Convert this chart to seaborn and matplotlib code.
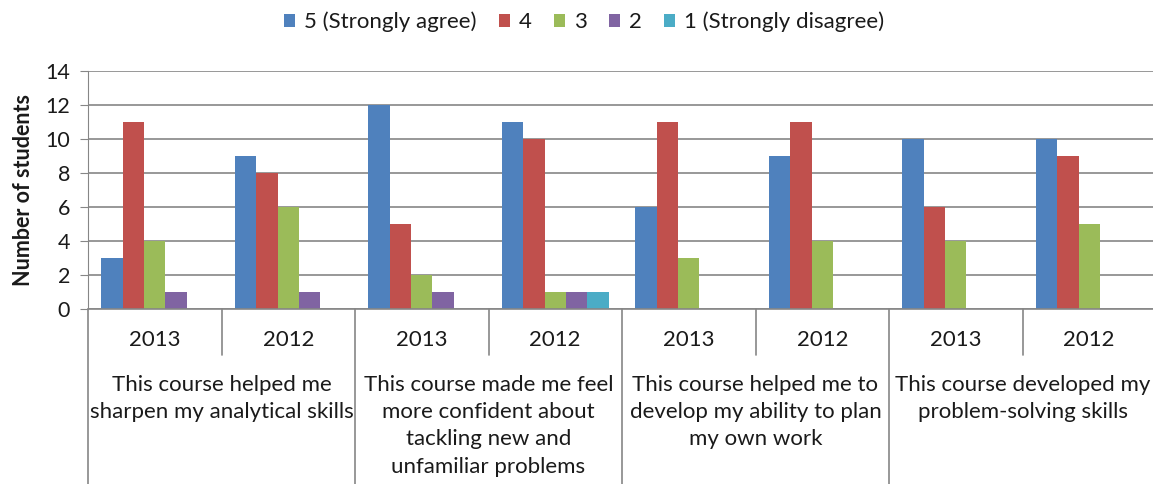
import seaborn as sns
import matplotlib.pyplot as plt
import pandas as pd

# values
questions = [
    'This course helped me\nsharpen my analytical skills',
    'This course made me feel\nmore confident about\ntackling new and\nunfamiliar problems',
    'This course helped me to\ndevelop my ability to plan\nmy own work',
    'This course developed my\nproblem-solving skills',
]
years = ['2013', '2012']
ratings = ['5 (Strongly agree)', '4', '3', '2', '1 (Strongly disagree)']
r5 = [3, 9, 12, 11, 6, 9, 10, 10]
r4 = [11, 8, 5, 10, 11, 11, 6, 9]
r3 = [4, 6, 2, 1, 3, 4, 4, 5]
r2 = [1, 1, 1, 1, 0, 0, 0, 0]
r1 = [0, 0, 0, 1, 0, 0, 0, 0]
colors = ['#4F81BD', '#C0504D', '#9BBB59', '#8064A2', '#4BACC6']

slots = [f'Q{q + 1} {y}' for q in range(len(questions)) for y in years]
rows = []
for rating, vals in zip(ratings, [r5, r4, r3, r2, r1]):
    for slot, v in zip(slots, vals):
        rows.append({'slot': slot, 'rating': rating, 'count': v})
df = pd.DataFrame(rows)

sns.set_style('white')
plt.rcParams['font.family'] = ['Lato', 'DejaVu Sans']
grey = '#868686'
txt = '#1a1a1a'

fig = plt.figure(figsize=(11.53, 4.84), dpi=100)
ax = fig.add_axes([88 / 1153, 1 - 309 / 484, (1156 - 88) / 1153, (309 - 71) / 484])

sns.barplot(data=df, x='slot', y='count', hue='rating', order=slots,
            hue_order=ratings, palette=colors, saturation=1, width=0.8,
            linewidth=0, ax=ax, legend=True)

ax.set_xlim(-0.5, len(slots) - 0.5)
ax.set_ylim(0, 14)
ax.set_yticks(range(0, 15, 2))
ax.yaxis.grid(True, color=grey, lw=1.2)
ax.set_axisbelow(True)
for s in ['top', 'right', 'bottom']:
    ax.spines[s].set_visible(False)
ax.spines['left'].set_color(grey)
ax.tick_params(axis='y', length=6, color=grey, direction='out', labelsize=15.5,
               labelcolor=txt, left=True, pad=7)
ax.set_xticks([])
ax.set_xlabel('')
ax.set_ylabel('Number of students', fontsize=15.5, fontweight='bold', color=txt, labelpad=8)

tr = ax.get_xaxis_transform()
# category axis frame
ax.plot([-0.5, len(slots) - 0.5], [0, 0], color=grey, lw=1.2, transform=tr, clip_on=False)
for i in range(len(slots)):
    ax.text(i, -31 / 238, slots[i].split()[1], ha='center', va='center',
            fontsize=16, color=txt, transform=tr)
    if i % 2 == 1:
        ax.plot([i - 0.5, i - 0.5], [0, -46 / 238], color=grey, lw=1.2, transform=tr, clip_on=False)
    else:
        ax.plot([i - 0.5, i - 0.5], [0, -0.76], color=grey, lw=1.2, transform=tr, clip_on=False)
for q, label in enumerate(questions):
    ax.text(2 * q + 0.5, -66 / 238, label, ha='center', va='top', fontsize=16,
            color=txt, linespacing=1.45, transform=tr)

ax.legend_.remove()
handles, labels = ax.get_legend_handles_labels()
fig.legend(handles[:len(ratings)], labels[:len(ratings)], loc='center',
           bbox_to_anchor=(584 / 1153, 1 - 22 / 484), ncol=5, frameon=False,
           fontsize=16, handlelength=0.5, handleheight=0.5, handletextpad=0.4,
           columnspacing=1.0, labelcolor=txt)

plt.savefig('out.png', dpi=100)
